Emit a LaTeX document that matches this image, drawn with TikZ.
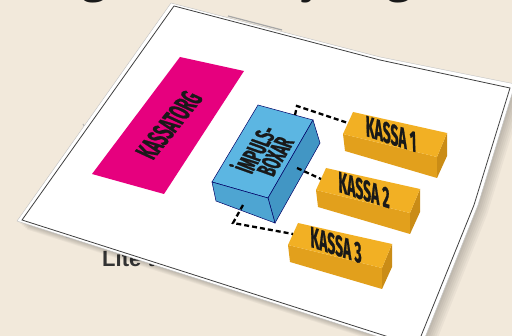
\documentclass[tikz,border=0pt]{standalone}
\usepackage{fontspec}
\setmainfont{Open Sans}
\newfontfamily\markerfont{Fira Sans}[FakeStretch=0.52, FakeBold=0.7]
\newfontfamily\bodyfont{Liberation Sans}

\definecolor{paper}{RGB}{242,233,219}
\definecolor{torgpink}{RGB}{230,0,126}
\definecolor{bluetop}{RGB}{92,182,226}
\definecolor{blueside}{RGB}{66,150,196}
\definecolor{bluefront}{RGB}{78,165,210}
\definecolor{kassatop}{RGB}{242,176,36}
\definecolor{kassafront}{RGB}{226,160,28}
\definecolor{kassaend}{RGB}{202,140,22}

\tikzset{
  heading/.style={font=\fontsize{48}{50}\selectfont, text=black!90, inner sep=0pt},
  boxlabel/.style={font=\markerfont\bfseries\fontsize{28}{20}\selectfont, text=black!90,
    inner sep=0pt, align=center},
  boxedge/.style={draw=black!60!blue, line width=0.5pt},
  link/.style={draw=black, line width=2.3pt, dash pattern=on 5pt off 3pt},
}

\begin{document}
\begin{tikzpicture}[x=1pt,y=-1pt]
\useasboundingbox (0,0) rectangle (512,336);
\fill[paper] (0,0) rectangle (512,336);

% what lies under the sheet
\node[heading, anchor=base] (h1) at (95,-8.5) {g};
\node[heading, anchor=base] (h2) at (311,-8.5) {j};
\node[heading, anchor=base] (h3) at (400,-8.5) {g};
\node[anchor=base west, inner sep=0pt, font=\bodyfont\bfseries\fontsize{22}{24}\selectfont,
  text=black!80] (lite) at (102,267) {Lite t};
\draw[gray!70, line width=1.2pt] (228,16) -- (282,30);
\draw[gray!60, line width=1pt] (83,124) -- (86,129);
\draw[gray!50, line width=1pt] (66,237) -- (76,239);

% sheet with shadow
\foreach \s in {1,...,6}
  \fill[black, opacity=0.035, shift={(\s*1.6,\s*1.4)}]
    (171,3) -- (380,57) -- (515,84) -- (478,205) -- (420,350) -- (17,221) -- cycle;
\fill[white] (171,3) -- (380,57) -- (515,84) -- (478,205) -- (420,350) -- (17,221) -- cycle;
\draw[gray!50, line width=0.4pt]
  (171,3) -- (380,57) -- (515,84) -- (478,205) -- (420,350) -- (17,221) -- cycle;
\draw[black!75, line width=0.8pt]
  (174,6) -- (380,60) -- (510,88) -- (474,205) -- (417,346) -- (22,220) -- cycle;

% kassatorg
\fill[torgpink] (180,57) -- (244,71) -- (164,194) -- (92,174) -- cycle;
\node[boxlabel, font=\markerfont\bfseries\fontsize{29}{29}\selectfont,
  rotate=51, xslant=-0.25] (torg) at (169,125) {KASSATORG};

% impulsboxar
\coordinate (b1) at (258,105);
\coordinate (b2) at (313,120);
\coordinate (b3) at (268,198);
\coordinate (b4) at (212,182);
\coordinate (b5) at (320,143);
\coordinate (b6) at (275,223);
\coordinate (b7) at (216,201);
\filldraw[boxedge, fill=bluetop] (b1) -- (b2) -- (b3) -- (b4) -- cycle;
\filldraw[boxedge, fill=blueside] (b2) -- (b5) -- (b6) -- (b3) -- cycle;
\filldraw[boxedge, fill=bluefront] (b4) -- (b3) -- (b6) -- (b7) -- cycle;
\node[boxlabel, font=\markerfont\bfseries\fontsize{26}{18}\selectfont,
  rotate=59, xslant=-0.2] (impuls) at (263,152) {İMPULS-\\BOXAR};

% kassor
\foreach \i/\dx/\dy in {1/0/0,2/-27/56,3/-55/111}{
  \begin{scope}[shift={(\dx,\dy)}]
    \fill[kassafront] (343,134) -- (437,157) -- (437,178) -- (345,151) -- cycle;
    \fill[kassaend] (447,133) -- (447,156) -- (437,178) -- (437,157) -- cycle;
    \fill[kassatop] (353,112) -- (447,133) -- (437,157) -- (343,134) -- cycle;
    \node[boxlabel, rotate=-18, xslant=-0.35] (kassa\i) at (391,134) {KASSA \i};
    \coordinate (in\i) at (348,123);
  \end{scope}
}

% kablar
\coordinate (out1) at (295,115);
\coordinate (bend1) at (297,106);
\coordinate (out2) at (297,168);
\coordinate (out3) at (243,205);
\coordinate (bend3) at (233,223);
\draw[link] (out1) -- (bend1) -- (in1);
\draw[link] (out2) -- (in2);
\draw[link] (out3) -- (bend3) -- (in3);
\end{tikzpicture}
\end{document}
